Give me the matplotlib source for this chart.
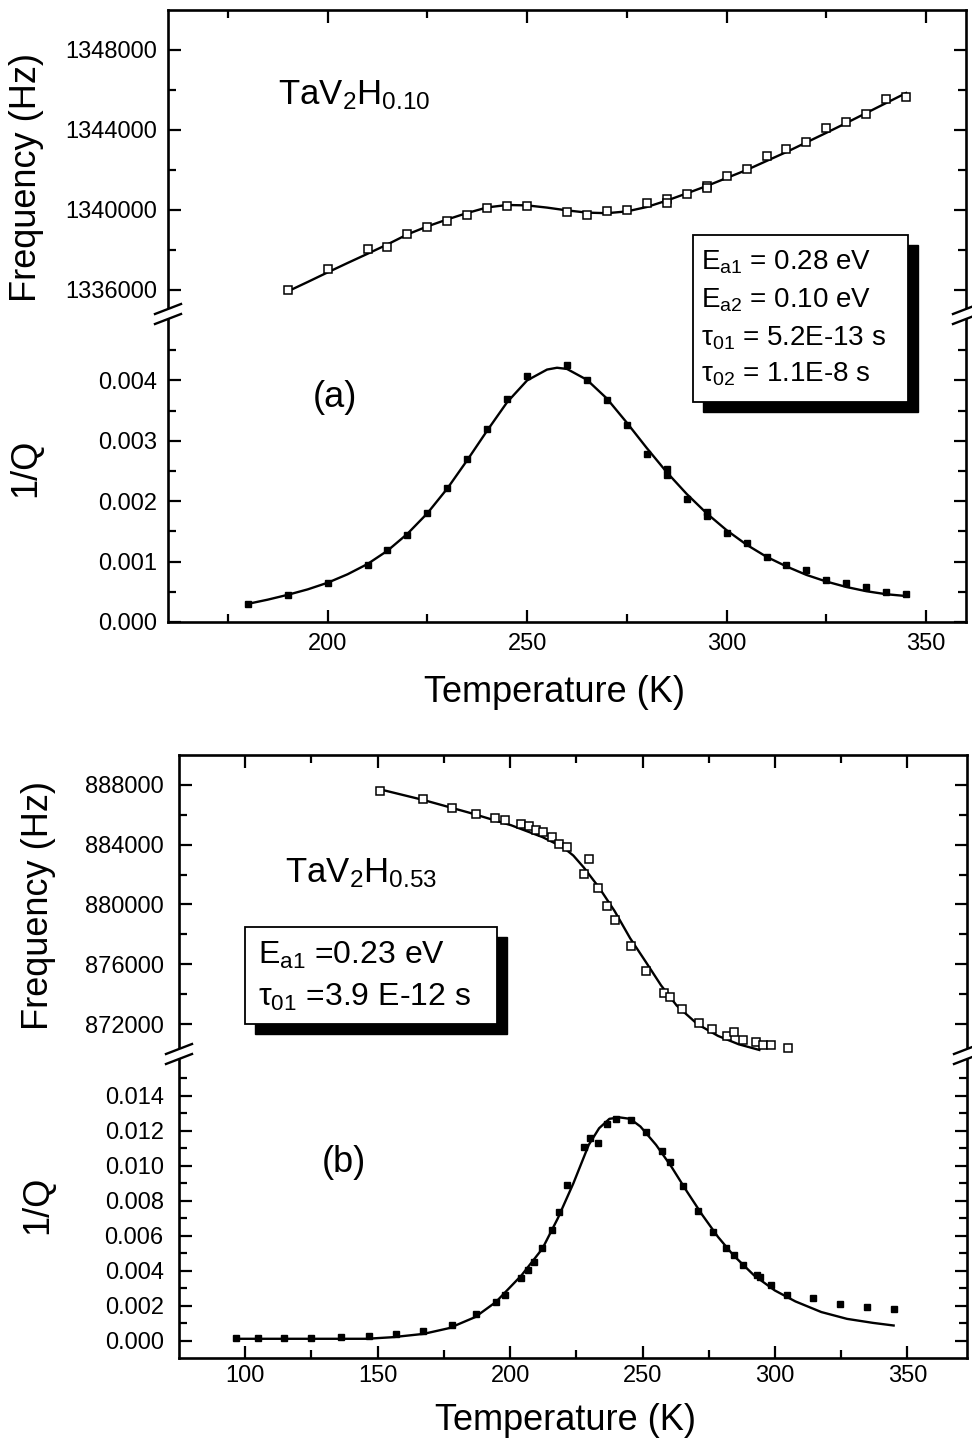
import matplotlib
matplotlib.use('Agg')
import matplotlib.pyplot as plt
from matplotlib.patches import Rectangle, Polygon
from matplotlib.lines import Line2D
from matplotlib.ticker import FormatStrFormatter

plt.rcParams['font.family'] = ['Liberation Sans', 'DejaVu Sans']
plt.rcParams['mathtext.fontset'] = 'custom'
plt.rcParams['mathtext.rm'] = 'Liberation Sans'
plt.rcParams['mathtext.it'] = 'Liberation Sans:italic'

# ---- panel (a): TaV2H0.10 ----
temp_a_freq = [190, 200, 210, 215, 220, 225, 230, 235, 240, 245, 250, 260, 265, 270, 275,
               280, 285, 285, 290, 295, 295, 300, 305, 310, 315, 320, 325, 330, 335, 340, 345]
freq_a = [1336000, 1337070, 1338030, 1338160, 1338780, 1339170, 1339450, 1339770, 1340110,
          1340190, 1340190, 1339900, 1339770, 1339940, 1340020, 1340340, 1340540, 1340370,
          1340810, 1341180, 1341100, 1341680, 1342050, 1342690, 1343060, 1343390, 1344080,
          1344400, 1344820, 1345540, 1345650]
fit_temp_a_freq = [190, 195, 200, 205, 210, 215, 220, 225, 230, 235, 240, 245, 250, 255, 260,
                   265, 270, 275, 280, 285, 290, 295, 300, 305, 310, 315, 320, 325, 330, 335,
                   340, 345]
fit_freq_a = [1335930, 1336400, 1336880, 1337350, 1337810, 1338280, 1338780, 1339180, 1339530,
              1339850, 1340130, 1340250, 1340230, 1340120, 1339980, 1339870, 1339840, 1339930,
              1340150, 1340470, 1340830, 1341200, 1341600, 1342000, 1342450, 1342900, 1343380,
              1343860, 1344350, 1344850, 1345350, 1345850]

temp_a_q = [180, 190, 200, 210, 215, 220, 225, 230, 235, 240, 245, 250, 260, 265, 270, 275,
            280, 285, 285, 290, 295, 295, 300, 305, 310, 315, 320, 325, 330, 335, 340, 345]
q_a = [0.00029, 0.00044, 0.00064, 0.00095, 0.00119, 0.00144, 0.00181, 0.00222, 0.00270,
       0.00320, 0.00369, 0.00407, 0.00425, 0.00401, 0.00368, 0.00327, 0.00279, 0.00253,
       0.00243, 0.00203, 0.00182, 0.00176, 0.00148, 0.00131, 0.00107, 0.00095, 0.00086,
       0.00069, 0.00064, 0.00058, 0.00050, 0.00047]
fit_temp_a_q = [180, 185, 190, 195, 200, 205, 210, 215, 220, 225, 230, 235, 240, 245, 250, 255,
                257.5, 260, 265, 270, 275, 280, 285, 290, 295, 300, 305, 310, 315, 320, 325,
                330, 335, 340, 345]
fit_q_a = [0.00030, 0.00037, 0.00045, 0.00054, 0.00065, 0.00079, 0.00096, 0.00118, 0.00146,
           0.00180, 0.00221, 0.00268, 0.00317, 0.00364, 0.00400, 0.00418, 0.00421, 0.00419,
           0.00401, 0.00370, 0.00330, 0.00288, 0.00248, 0.00212, 0.00180, 0.00152, 0.00128,
           0.00108, 0.00092, 0.00078, 0.00067, 0.00058, 0.00051, 0.00046, 0.00043]

# ---- panel (b): TaV2H0.53 ----
temp_b_freq = [150.7, 167.3, 178, 187.2, 194.2, 197.9, 204.3, 207, 209.8, 212.5, 215.7, 218.6,
               221.5, 229.7, 227.8, 233.2, 236.5, 239.5, 245.7, 251.2, 258, 260.5, 264.8,
               271.2, 276.1, 281.8, 284.7, 287.8, 292.7, 295.6, 298.4, 304.8]
freq_b = [887620, 887030, 886450, 886040, 885790, 885630, 885410, 885230, 885000, 884820,
          884530, 884060, 883830, 883020, 882070, 881130, 879930, 878940, 877250, 875540,
          874070, 873780, 873010, 872050, 871660, 871210, 871480, 870920, 870780, 870580,
          870580, 870420]
fit_temp_b_freq = [150.7, 167.3, 184.8, 200.4, 212.2, 220, 223.9, 227.8, 233.6, 239.5, 245.3,
                   251.2, 257, 262.9, 270.7, 278.5, 286.3, 294.1]
fit_freq_b = [887710, 886990, 886130, 885300, 884510, 883830, 883270, 882480, 881130, 879550,
              877750, 876170, 874590, 873240, 872000, 871210, 870650, 870270]

temp_b_q = [96.5, 104.9, 114.6, 124.8, 136, 146.8, 157, 167.3, 178, 187.2, 194.6, 198.1,
            204.3, 206.7, 209.2, 212.2, 215.7, 218.4, 221.5, 227.8, 230.1, 233.2, 236.5,
            239.8, 245.7, 251.2, 257.4, 260.3, 265.2, 271, 276.5, 281.4, 284.7, 287.8, 293.1,
            294.5, 298.4, 304.4, 314.5, 324.7, 334.6, 344.8]
q_b = [0.00013, 0.00013, 0.00013, 0.00017, 0.00021, 0.00025, 0.00038, 0.00057, 0.00090,
       0.00149, 0.00220, 0.00262, 0.00358, 0.00402, 0.00450, 0.00532, 0.00632, 0.00737,
       0.00890, 0.01110, 0.01158, 0.01129, 0.01238, 0.01269, 0.01263, 0.01192, 0.01085,
       0.01024, 0.00886, 0.00741, 0.00622, 0.00530, 0.00492, 0.00431, 0.00373, 0.00364,
       0.00320, 0.00262, 0.00243, 0.00207, 0.00191, 0.00182]
fit_temp_b_q = [96.5, 145.8, 155.6, 167.3, 177, 186.8, 194.6, 204.3, 212.2, 218, 223.9, 229.7,
                233.6, 237.5, 241.4, 245.3, 249.2, 255.1, 260.9, 266.8, 272.6, 278.5, 284.3,
                292.1, 299.9, 307.7, 317.5, 327.2, 337, 344.8]
fit_q_b = [0.00010, 0.00010, 0.00019, 0.00038, 0.00071, 0.00134, 0.00220, 0.00373, 0.00526,
           0.00699, 0.00900, 0.01120, 0.01215, 0.01269, 0.01277, 0.01269, 0.01225, 0.01120,
           0.00995, 0.00852, 0.00718, 0.00593, 0.00488, 0.00373, 0.00287, 0.00224, 0.00163,
           0.00124, 0.00101, 0.00086]

W, H = 972, 1448
fig = plt.figure(figsize=(W / 100, H / 100), dpi=100)
fig.patch.set_facecolor('white')


def fx(x):
    return x / W


def fy(y):
    return 1 - y / H


def rect(x0, y0, x1, y1):
    return [fx(x0), fy(y1), (x1 - x0) / W, (y1 - y0) / H]


ax_af = fig.add_axes(rect(168, 10, 966, 314))
ax_aq = fig.add_axes(rect(168, 314, 966, 622))
ax_bf = fig.add_axes(rect(179, 755, 967, 1054))
ax_bq = fig.add_axes(rect(179, 1054, 967, 1358))

open_sq = dict(ls='none', marker='s', ms=5.3, mfc='white', mec='black', mew=1.1)
full_sq = dict(ls='none', marker='s', ms=5, mfc='black', mec='black')
fit_ln = dict(color='black', lw=1.7)

ax_af.plot(fit_temp_a_freq, fit_freq_a, **fit_ln)
ax_af.plot(temp_a_freq, freq_a, **open_sq)
ax_aq.plot(fit_temp_a_q, fit_q_a, **fit_ln)
ax_aq.plot(temp_a_q, q_a, **full_sq)
ax_bf.plot(fit_temp_b_freq, fit_freq_b, **fit_ln)
ax_bf.plot(temp_b_freq, freq_b, **open_sq)
ax_bq.plot(fit_temp_b_q, fit_q_b, **fit_ln)
ax_bq.plot(temp_b_q, q_b, **full_sq)

# limits and ticks
for ax in (ax_af, ax_aq):
    ax.set_xlim(160, 360)
    ax.set_xticks([200, 250, 300, 350])
    ax.set_xticks([175, 225, 275, 325], minor=True)
for ax in (ax_bf, ax_bq):
    ax.set_xlim(75, 372.5)
    ax.set_xticks([100, 150, 200, 250, 300, 350])
    ax.set_xticks([125, 175, 225, 275, 325], minor=True)

ax_af.set_ylim(1334800, 1350000)
ax_af.set_yticks([1336000, 1340000, 1344000, 1348000])
ax_af.set_yticks([1338000, 1342000, 1346000], minor=True)
ax_af.yaxis.set_major_formatter(FormatStrFormatter('%d'))

ax_aq.set_ylim(0, 0.0051)
ax_aq.set_yticks([0, 0.001, 0.002, 0.003, 0.004])
ax_aq.set_yticks([0.0005, 0.0015, 0.0025, 0.0035, 0.0045], minor=True)
ax_aq.yaxis.set_major_formatter(FormatStrFormatter('%.3f'))

ax_bf.set_ylim(870000, 890000)
ax_bf.set_yticks([872000, 876000, 880000, 884000, 888000])
ax_bf.set_yticks([874000, 878000, 882000, 886000], minor=True)
ax_bf.yaxis.set_major_formatter(FormatStrFormatter('%d'))

ax_bq.set_ylim(-0.001, 0.0164)
ax_bq.set_yticks([0, 0.002, 0.004, 0.006, 0.008, 0.010, 0.012, 0.014])
ax_bq.set_yticks([0.001, 0.003, 0.005, 0.007, 0.009, 0.011, 0.013, 0.015], minor=True)
ax_bq.yaxis.set_major_formatter(FormatStrFormatter('%.3f'))

for ax in (ax_af, ax_aq, ax_bf, ax_bq):
    for s in ax.spines.values():
        s.set_linewidth(1.9)
    ax.tick_params(which='both', direction='in', width=1.6, labelsize=17,
                   left=True, right=True, top=False, bottom=False,
                   labelbottom=False, labeltop=False)
    ax.tick_params(which='major', length=9)
    ax.tick_params(which='minor', length=5.5)

for upper, lower in ((ax_af, ax_aq), (ax_bf, ax_bq)):
    upper.spines['bottom'].set_visible(False)
    lower.spines['top'].set_visible(False)
    upper.tick_params(axis='x', which='both', top=True)
    lower.tick_params(axis='x', which='both', bottom=True, labelbottom=True)

ax_af.tick_params(axis='y', pad=8)
ax_aq.tick_params(axis='y', pad=8)
ax_aq.tick_params(axis='x', pad=8)
ax_bf.tick_params(axis='y', pad=11)
ax_bq.tick_params(axis='y', pad=11)
ax_bq.tick_params(axis='x', pad=5)

# axis break marks
for xs, yb in ((168, 314), (966, 314), (179, 1054), (967, 1054)):
    gap = Polygon([(fx(xs - 12), fy(yb)), (fx(xs + 12), fy(yb - 10)),
                   (fx(xs + 12), fy(yb)), (fx(xs - 12), fy(yb + 10))],
                  closed=True, transform=fig.transFigure, fc='white', ec='none', zorder=5)
    fig.add_artist(gap)
    for d in (-5, 5):
        fig.add_artist(Line2D([fx(xs - 13), fx(xs + 13)], [fy(yb + d + 5), fy(yb + d - 5)],
                              transform=fig.transFigure, color='black', lw=1.7, zorder=6))

# axis titles
lab = dict(fontsize=26)
fig.text(fx(554), fy(692), 'Temperature (K)', ha='center', va='center', **lab)
fig.text(fx(565), fy(1420), 'Temperature (K)', ha='center', va='center', **lab)
fig.text(fx(26), fy(178), 'Frequency (Hz)', rotation=90, ha='center', va='center', **lab)
fig.text(fx(26), fy(468), '1/Q', rotation=90, ha='center', va='center', **lab)
fig.text(fx(38), fy(905), 'Frequency (Hz)', rotation=90, ha='center', va='center', **lab)
fig.text(fx(38), fy(1205), '1/Q', rotation=90, ha='center', va='center', **lab)

# sample names and panel letters
fig.text(fx(278), fy(104), r'TaV$_{\mathrm{2}}$H$_{\mathrm{0.10}}$', fontsize=25,
         ha='left', va='baseline')
fig.text(fx(285), fy(882), r'TaV$_{\mathrm{2}}$H$_{\mathrm{0.53}}$', fontsize=25,
         ha='left', va='baseline')
fig.text(fx(313), fy(407), '(a)', fontsize=26, ha='left', va='baseline')
fig.text(fx(322), fy(1172), '(b)', fontsize=26, ha='left', va='baseline')


# parameter boxes with drop shadow
def shadow_box(x0, y0, x1, y1, off):
    fig.add_artist(Rectangle((fx(x0 + off), fy(y1 + off)), (x1 - x0) / W, (y1 - y0) / H,
                             transform=fig.transFigure, fc='black', ec='black', zorder=7))
    fig.add_artist(Rectangle((fx(x0), fy(y1)), (x1 - x0) / W, (y1 - y0) / H,
                             transform=fig.transFigure, fc='white', ec='black', lw=1.3,
                             zorder=8))


shadow_box(693, 235, 908, 402, 10)
params_a = [r'E$_{\mathrm{a1}}$ = 0.28 eV', r'E$_{\mathrm{a2}}$ = 0.10 eV',
            r'τ$_{\mathrm{01}}$ = 5.2E-13 s', r'τ$_{\mathrm{02}}$ = 1.1E-8 s']
for txt, yb in zip(params_a, [270, 307, 345, 382]):
    fig.text(fx(701), fy(yb), txt, fontsize=20, ha='left', va='baseline', zorder=9)

shadow_box(245, 927, 497, 1024, 10)
params_b = [r'E$_{\mathrm{a1}}$ =0.23 eV', r'τ$_{\mathrm{01}}$ =3.9 E-12 s']
for txt, yb in zip(params_b, [964, 1006]):
    fig.text(fx(258), fy(yb), txt, fontsize=23, ha='left', va='baseline', zorder=9)

fig.savefig('out.png', dpi=100)
